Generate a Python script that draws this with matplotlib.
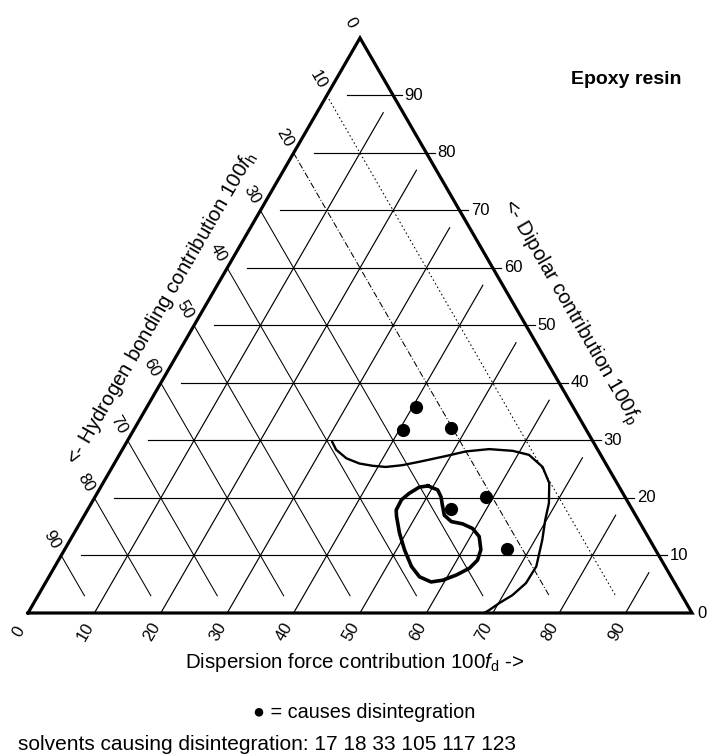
import numpy as np
import matplotlib
matplotlib.use("Agg")
import matplotlib.pyplot as plt

plt.rcParams['font.family'] = ['Liberation Sans', 'DejaVu Sans']
plt.rcParams['mathtext.fontset'] = 'custom'
plt.rcParams['mathtext.rm'] = 'Liberation Sans'
plt.rcParams['mathtext.it'] = 'Liberation Sans:italic'

############################## DATA ##############################

# percent values on each side of the triangle
tickValues = [0, 10, 20, 30, 40, 50, 60, 70, 80, 90]
gridValues = [10, 20, 30, 40, 50, 60, 70, 80, 90]

# solvents causing disintegration (100fd, 100fp)
dotFd = [40.5, 40.6, 47.6, 58.9, 54.7, 66.6]
dotFp = [35.8, 31.8, 32.2, 20.1, 18.0, 11.1]

# outer (thin) solubility boundary
outerFd = [30.9, 32.2, 34.5, 36.9, 39.1, 41.2, 43.5, 45.8, 49.3, 51.9, 55.2,
           58.9, 61.7, 64.8, 67.2, 68.9, 69.8, 71.1, 72.5, 72.4, 71.4, 70.1,
           69.2, 68.7]
outerFp = [29.8, 28.4, 26.9, 26.0, 25.6, 25.4, 25.7, 26.3, 27.3, 28.1, 28.5,
           28.2, 27.5, 25.4, 22.6, 19.1, 16.2, 12.7, 8.1, 5.2, 3.1, 1.7,
           0.5, 0.0]

# inner (thick) closed boundary
innerFd = [49.2, 51.0, 52.1, 53.0, 54.2, 55.8, 57.7, 59.6, 61.3, 62.7, 63.1,
           62.6, 61.2, 59.6, 58.0, 55.8, 53.7, 51.2, 49.0, 47.1, 46.5, 46.4,
           47.0, 48.0, 49.2]
innerFp = [22.1, 21.4, 20.2, 18.8, 17.0, 15.9, 15.5, 14.7, 13.3, 11.0, 9.2,
           7.8, 6.6, 5.7, 5.4, 6.3, 8.1, 11.0, 13.9, 16.8, 17.9, 19.7,
           20.8, 21.9, 22.1]

############################## FUNCTIONS ##############################

# dispersion / dipolar percentages -> plane coordinates
def toXY(fd, fp):
  fd = np.asarray(fd, float)
  fp = np.asarray(fp, float)
  return fd + fp / 2.0, fp * np.sqrt(3) / 2.0

def line(fdA, fpA, fdB, fpB, **kw):
  x, y = toXY([fdA, fdB], [fpA, fpB])
  ax.plot(x, y, color="black", **kw)

############################## SCRIPT ##############################

PX = 6.64      # pixels per percent
gap = 3.0      # grid lines stop short of the far side
fig = plt.figure(figsize=(7.11, 7.56), dpi=100)
ax = fig.add_axes([0, 0, 1, 1])
ax.set_xlim(-28 / PX, (711 - 28) / PX)
ax.set_ylim(-143 / PX, 613 / PX)
ax.axis("off")

# grid
for v in gridValues:
  # constant dipolar (horizontal), with a small tick outside the right side
  x, y = toXY([gap, 100 - v], [v, v])
  ax.plot([x[0], x[1] + 1.3], y, color="black", lw=0.85)
  # constant dispersion, from the bottom up to the right side
  line(v, 0, v, 100 - v - gap, lw=0.85)
  # constant hydrogen bonding, from the left side down to the bottom
  if v == 10:
    style = (0, (1.5, 2.5))
  elif v == 20:
    style = (0, (6, 2, 1, 2))
  else:
    style = "-"
  line(0, 100 - v, 100 - v - gap, gap, lw=0.75, linestyle=style)

# triangle
tx, ty = toXY([0, 100, 0, 0], [0, 0, 100, 0])
ax.plot(tx, ty, color="black", lw=2.3, solid_joinstyle="miter")

# tick labels
for v in tickValues:
  x, y = toXY(v, 0)
  ax.annotate(str(v), (x, y), xytext=(-6.5, -13.5), textcoords="offset points",
              rotation=60, ha="center", va="center", fontsize=12)
  x, y = toXY(0, 100 - v)
  ax.annotate(str(v), (x, y), xytext=(-6.5, 11), textcoords="offset points",
              rotation=-60, ha="center", va="center", fontsize=12)
  x, y = toXY(100 - v, v)
  ax.annotate(str(v), (x, y), xytext=(8 if v else 4, 0), textcoords="offset points",
              ha="left", va="center", fontsize=12)

# boundaries and points
ox, oy = toXY(outerFd, outerFp)
ax.plot(ox, oy, color="black", lw=1.7, solid_capstyle="round", solid_joinstyle="round")
ix, iy = toXY(innerFd, innerFp)
ax.plot(ix, iy, color="black", lw=2.6, solid_joinstyle="round")
dx, dy = toXY(dotFd, dotFp)
ax.plot(dx, dy, "o", color="black", markersize=8.5)

# axis titles
fig.text(161.6 / 711, 1 - 307.7 / 756, "<- Hydrogen bonding contribution 100$f_\\mathrm{h}$",
         rotation=60, ha="center", va="center", fontsize=14.8)
fig.text(570 / 711, 1 - 313 / 756, "<- Dipolar contribution 100$f_\\mathrm{p}$",
         rotation=-60, ha="center", va="center", fontsize=14.8)
fig.text(355 / 711, 1 - 663 / 756, "Dispersion force contribution 100$f_\\mathrm{d}$ ->",
         ha="center", va="center", fontsize=14.8)
fig.text(626 / 711, 1 - 80 / 756, "Epoxy resin", ha="center", va="center",
         fontsize=14, fontweight="bold")
fig.text(364 / 711, 1 - 713 / 756, "\u25cf = causes disintegration",
         ha="center", va="center", fontsize=14.3)
fig.text(18 / 711, 1 - 744 / 756, "solvents causing disintegration: 17 18 33 105 117 123",
         ha="left", va="center", fontsize=15)

fig.savefig("out.png", dpi=100)
